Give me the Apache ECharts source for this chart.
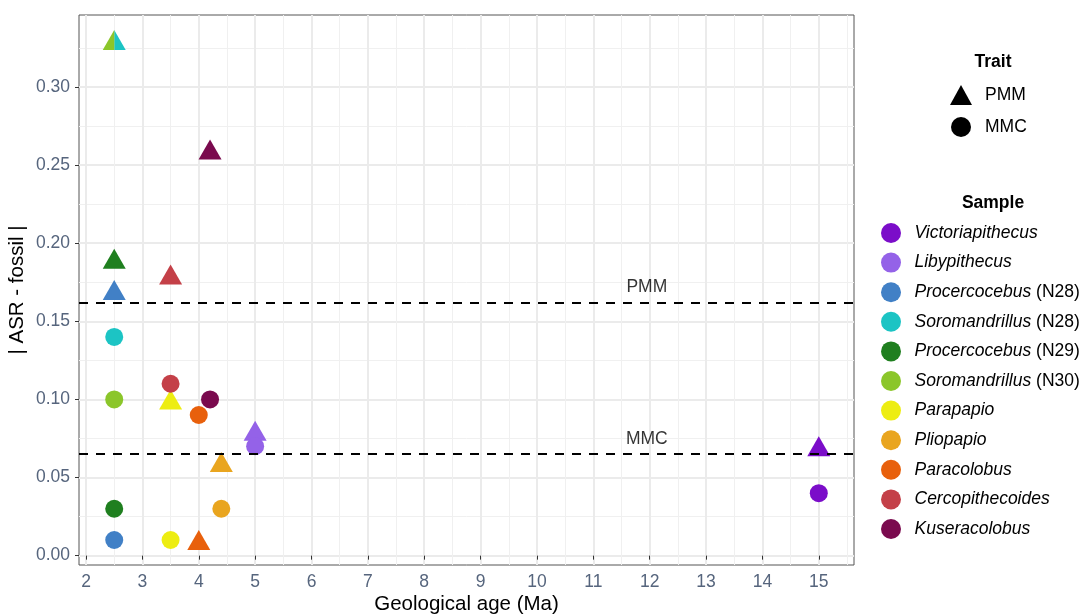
<!DOCTYPE html>
<html>
<head>
<meta charset="utf-8">
<script src="https://cdn.jsdelivr.net/npm/echarts@6/dist/echarts.min.js"></script>
<style>html,body{margin:0;padding:0;background:#fff}#chart{width:1085px;height:614px}</style>
</head>
<body>
<div id="chart"></div>
<script>
const sampleNames = ['Victoriapithecus','Libypithecus','Procercocebus (N28)','Soromandrillus (N28)','Procercocebus (N29)','Soromandrillus (N30)','Parapapio','Pliopapio','Paracolobus','Cercopithecoides','Kuseracolobus'];
const sampleColors = ['#7B0DC9','#9462E8','#4180C6','#1CC4C4','#1F7F1F','#8BC62A','#EDED12','#E9A51F','#E8600C','#C44048','#7A0A4E'];
const ageMa = [15, 5, 2.5, 2.5, 2.5, 2.5, 3.5, 4.4, 4.0, 3.5, 4.2];
const pmmValues = [0.07, 0.08, 0.17, 0.33, 0.19, 0.33, 0.10, 0.06, 0.01, 0.18, 0.26];
const mmcValues = [0.04, 0.07, 0.01, 0.14, 0.03, 0.10, 0.01, 0.03, 0.09, 0.11, 0.10];
const traitNames = ['PMM', 'MMC'];
const thresholdNames = ['PMM', 'MMC'];
const thresholdValues = [0.162, 0.065];
const thresholdLabelX = [11.95, 11.95];
const xTicks = [2,3,4,5,6,7,8,9,10,11,12,13,14,15];
const xMinor = [2.5,3.5,4.5,5.5,6.5,7.5,8.5,9.5,10.5,11.5,12.5,13.5,14.5,15.5];
const yTicks = [0, 0.05, 0.10, 0.15, 0.20, 0.25, 0.30];
const yMinor = [0.025, 0.075, 0.125, 0.175, 0.225, 0.275, 0.325];

const X_MIN = 1.875, X_MAX = 15.625, Y_MIN = -0.006, Y_MAX = 0.346;
const FONT = "'Liberation Sans', Arial, sans-serif";
const TICK_COLOR = '#56657d';
const TXT = 17.5;
const TITLE_TXT = 20.5;

const chart = echarts.init(document.getElementById('chart'), null, {renderer: 'canvas'});

const TRI = [23, 20];
const CIRC = 18;
const halfLeft = 'path://M1,0 L1,2 L0,2 Z';
const halfRight = 'path://M0,0 L0,2 L1,2 Z';

const sampleSeries = sampleNames.map((name, i) => {
  let triItem = {value: [ageMa[i], pmmValues[i]], symbol: 'triangle', symbolSize: TRI};
  if (name === 'Soromandrillus (N30)') {
    triItem = {value: [ageMa[i], pmmValues[i]], symbol: halfLeft, symbolSize: [TRI[0] / 2, TRI[1]], symbolOffset: [-TRI[0] / 4, 0]};
  } else if (name === 'Soromandrillus (N28)') {
    triItem = {value: [ageMa[i], pmmValues[i]], symbol: halfRight, symbolSize: [TRI[0] / 2, TRI[1]], symbolOffset: [TRI[0] / 4, 0]};
  }
  return {
    name: name,
    type: 'scatter',
    itemStyle: {color: sampleColors[i], opacity: 1},
    emphasis: {disabled: true},
    z: 3,
    data: [
      triItem,
      {value: [ageMa[i], mmcValues[i]], symbol: 'circle', symbolSize: CIRC}
    ]
  };
});

const traitSeries = traitNames.map((name, i) => ({
  name: name,
  type: 'scatter',
  symbol: i === 0 ? 'triangle' : 'circle',
  itemStyle: {color: '#000000', opacity: 1},
  data: []
}));

const thresholdSeries = {
  name: 'thresholds',
  type: 'scatter',
  symbolSize: 0,
  z: 5,
  silent: true,
  data: thresholdNames.map((n, i) => ({value: [thresholdLabelX[i], thresholdValues[i]], name: n})),
  label: {
    show: true, position: 'top', distance: 6,
    formatter: p => p.name,
    color: '#000', fontSize: TXT, fontFamily: FONT
  },
  markLine: {
    silent: true,
    precision: 6,
    symbol: ['none', 'none'],
    label: {show: false},
    lineStyle: {color: '#000', width: 2, type: [9, 8]},
    data: thresholdValues.map(v => ({yAxis: v}))
  }
};

function fmtName(name) {
  const m = name.match(/^(\S+)(\s\(.*\))?$/);
  return m[2] ? '{i|' + m[1] + '}{n|' + m[2] + '}' : '{i|' + m[1] + '}';
}

const option = {
  backgroundColor: '#fff',
  animation: false,
  textStyle: {fontFamily: FONT},
  title: [
    {text: 'Trait', left: 993, top: 53, textAlign: 'center', padding: 0,
     textStyle: {fontSize: TXT, fontWeight: 'bold', color: '#000', fontFamily: FONT}},
    {text: 'Sample', left: 993, top: 194, textAlign: 'center', padding: 0,
     textStyle: {fontSize: TXT, fontWeight: 'bold', color: '#000', fontFamily: FONT}}
  ],
  grid: {left: 79, right: 231, top: 15, bottom: 49, containLabel: false, outerBoundsMode: 'none',
         show: true, borderColor: '#555', borderWidth: 1, backgroundColor: 'transparent'},
  legend: [
    {
      orient: 'vertical', left: 950, top: 85, padding: 0,
      itemWidth: 22, itemHeight: 20, itemGap: 12,
      selectedMode: false,
      data: [
        {name: 'PMM', icon: 'triangle', itemStyle: {color: '#000000', opacity: 1}},
        {name: 'MMC', icon: 'circle', itemStyle: {color: '#000000', opacity: 1}}
      ],
      textStyle: {fontSize: TXT, color: '#000', fontFamily: FONT, padding: [0, 0, 0, 8]}
    },
    {
      orient: 'vertical', left: 881, top: 223, padding: 0,
      itemWidth: 21, itemHeight: 20, itemGap: 9.6,
      icon: 'circle',
      selectedMode: false,
      data: sampleNames,
      formatter: fmtName,
      textStyle: {
        fontSize: TXT, color: '#000', fontFamily: FONT, padding: [0, 0, 0, 8],
        rich: {
          i: {fontStyle: 'italic', fontSize: TXT, color: '#000', fontFamily: FONT},
          n: {fontSize: TXT, color: '#000', fontFamily: FONT}
        }
      }
    }
  ],
  xAxis: [
    {
      type: 'value', min: X_MIN, max: X_MAX,
      name: 'Geological age (Ma)', nameLocation: 'middle', nameGap: 29, nameMoveOverlap: false,
      nameTextStyle: {fontSize: TITLE_TXT, color: '#000', fontFamily: FONT},
      axisLine: {show: false},
      axisTick: {show: true, length: 4, customValues: xTicks, lineStyle: {color: '#333', width: 1}},
      axisLabel: {show: true, customValues: xTicks, margin: 8, fontSize: TXT, color: TICK_COLOR, fontFamily: FONT},
      splitLine: {show: true, lineStyle: {color: '#EBEBEB', width: 2}}
    },
    {
      type: 'value', min: X_MIN, max: X_MAX, gridIndex: 0,
      axisLine: {show: false},
      axisTick: {show: false, customValues: xMinor},
      axisLabel: {show: false, customValues: xMinor},
      splitLine: {show: true, lineStyle: {color: '#F0F0F0', width: 1}}
    }
  ],
  yAxis: [
    {
      type: 'value', min: Y_MIN, max: Y_MAX,
      name: '| ASR - fossil |', nameLocation: 'middle', nameGap: 51, nameMoveOverlap: false,
      nameTextStyle: {fontSize: TITLE_TXT, color: '#000', fontFamily: FONT},
      axisLine: {show: false},
      axisTick: {show: true, length: 4, customValues: yTicks, lineStyle: {color: '#333', width: 1}},
      axisLabel: {show: true, customValues: yTicks, margin: 9, fontSize: TXT, color: TICK_COLOR, fontFamily: FONT,
                  formatter: v => v.toFixed(2)},
      splitLine: {show: true, lineStyle: {color: '#EBEBEB', width: 2}}
    },
    {
      type: 'value', min: Y_MIN, max: Y_MAX, gridIndex: 0,
      axisLine: {show: false},
      axisTick: {show: false, customValues: yMinor},
      axisLabel: {show: false, customValues: yMinor},
      splitLine: {show: true, lineStyle: {color: '#F0F0F0', width: 1}}
    }
  ],
  series: [...traitSeries, ...sampleSeries, thresholdSeries]
};

chart.setOption(option);
</script>
</body>
</html>
